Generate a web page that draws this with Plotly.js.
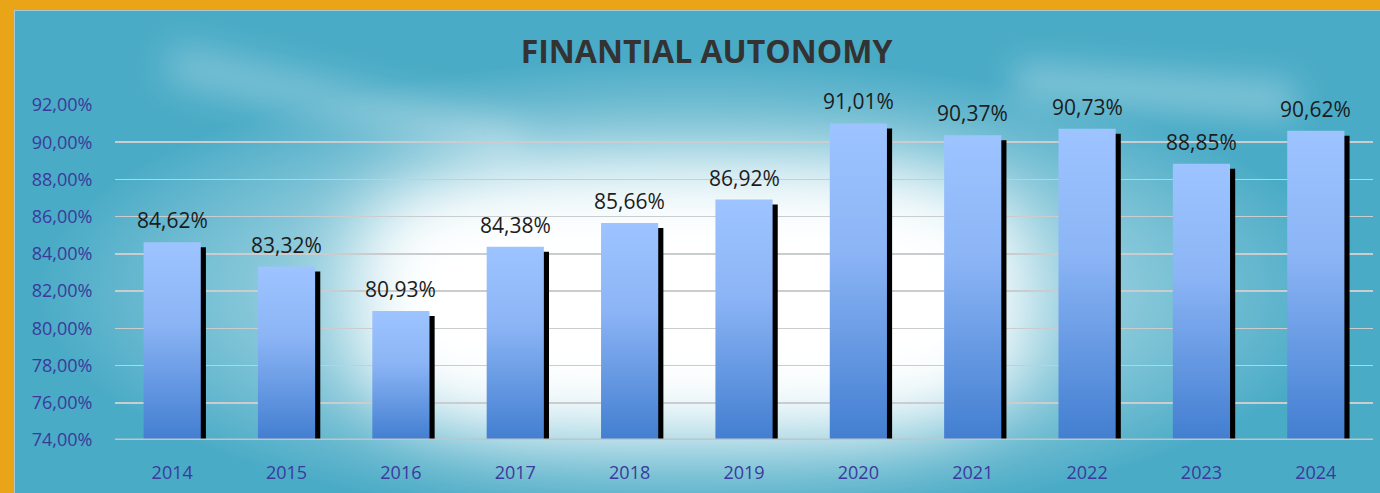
<!DOCTYPE html>
<html>
<head>
<meta charset="utf-8">
<script src="https://cdn.plot.ly/plotly-3.0.1.min.js"></script>
<style>
  html, body { margin:0; padding:0; width:1380px; height:493px; overflow:hidden; background:#e9a418; }
  #bg { position:absolute; left:14px; top:10px; width:1366px; height:483px; overflow:hidden;
        box-sizing:border-box; border-left:1px solid #a9c9d2; border-top:1px solid #a9c9d2;
        background:#4aabc6; }
  #glowWide { position:absolute; left:0; top:0; width:1366px; height:483px;
        background: radial-gradient(ellipse 660px 235px at 680px 280px, rgba(255,255,255,0.8) 0%, rgba(255,255,255,0.5) 50%, rgba(255,255,255,0) 100%); }
  #glowCore { position:absolute; left:345px; top:160px; width:660px; height:258px;
        background:#ffffff; border-radius:28%; filter:blur(36px); }
  #streak1 { position:absolute; left:150px; top:75px; width:360px; height:34px;
        background:rgba(255,255,255,0.3); filter:blur(18px); transform:rotate(13deg); }
  #streak2 { position:absolute; left:1000px; top:62px; width:280px; height:36px;
        background:rgba(255,255,255,0.3); filter:blur(16px); transform:rotate(4deg); }
  #chart { position:absolute; left:0; top:0; width:1380px; height:493px; }
  .barlayer .trace:last-child path { fill:url(#barGrad) !important; }
</style>
</head>
<body>
<div id="bg"><div id="glowWide"></div><div id="streak1"></div><div id="streak2"></div><div id="glowCore"></div></div>
<svg width="0" height="0" style="position:absolute">
  <defs>
    <linearGradient id="barGrad" x1="0" y1="0" x2="0" y2="1">
      <stop offset="0%" stop-color="#9dc4ff"/>
      <stop offset="40%" stop-color="#8cb5f6"/>
      <stop offset="100%" stop-color="#427ed0"/>
    </linearGradient>
  </defs>
</svg>
<div id="chart"></div>
<script>
const years = ['2014','2015','2016','2017','2018','2019','2020','2021','2022','2023','2024'];
const autonomy = [84.62, 83.32, 80.93, 84.38, 85.66, 86.92, 91.01, 90.37, 90.73, 88.85, 90.62];
const yTicks = [74, 76, 78, 80, 82, 84, 86, 88, 90, 92];

const fmt = v => v.toFixed(2).replace('.', ',') + '%';
const axisMin = yTicks[0];
const shadowDrop = 0.27;
const shadow = {
  type:'bar', x: years, y: autonomy.map(v => v - shadowDrop - axisMin), base: axisMin,
  width: 0.5, offset: -0.25 + 0.045,
  marker:{color:'#000000', line:{width:0}}, hoverinfo:'skip', showlegend:false
};
const main = {
  type:'bar', x: years, y: autonomy.map(v => v - axisMin), base: axisMin,
  width: 0.5, offset: -0.25,
  marker:{color:'#7faaf0', line:{width:0}}, showlegend:false
};

const annotations = years.map((yr, i) => ({
  x: i, y: autonomy[i], xref:'x', yref:'y',
  text: fmt(autonomy[i]),
  showarrow:false, yanchor:'bottom', yshift: 6,
  font:{family:'Open Sans', size:21, color:'#1c1c1c'}
}));

const layout = {
  width:1380, height:493,
  margin:{l:115, r:7, t:105, b:53, pad:0},
  paper_bgcolor:'rgba(0,0,0,0)', plot_bgcolor:'rgba(0,0,0,0)',
  separators: ',.',
  barmode:'overlay',
  title:{text:'<b>FINANTIAL AUTONOMY</b>', x:0.512, xref:'container', xanchor:'center',
         y:1 - 52/493, yref:'container', yanchor:'middle',
         font:{family:'Open Sans', size:32, color:'#333333'}},
  xaxis:{type:'category', range:[-0.5, years.length - 0.5], autorange:false,
         showgrid:false, zeroline:false, showline:false,
         ticks:'outside', ticklen:16, tickcolor:'rgba(0,0,0,0)',
         tickfont:{family:'Open Sans', size:18, color:'#3b3a9c'}, fixedrange:true},
  yaxis:{range:[74, 92], autorange:false, tickmode:'array', tickvals:yTicks, ticktext: yTicks.map(fmt),
         showgrid:true, gridcolor:'#c9cdd0', gridwidth:1.5, zeroline:false,
         showline:false, ticks:'outside', ticklen:18, tickcolor:'rgba(0,0,0,0)',
         tickfont:{family:'Open Sans', size:18, color:'#3b3a9c'}, fixedrange:true},
  shapes:[{type:'line', xref:'paper', yref:'y', x0:0, x1:1, y0:74, y1:74,
           line:{color:'#c2c4c6', width:3}, layer:'above'}],
  annotations: annotations
};

Plotly.newPlot('chart', [shadow, main], layout, {displayModeBar:false, staticPlot:true});
</script>
</body>
</html>
